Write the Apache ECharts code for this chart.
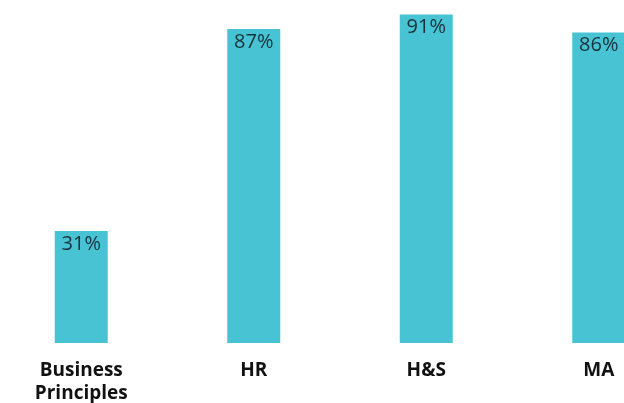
<!DOCTYPE html>
<html>
<head>
<meta charset="utf-8">
<script src="https://cdn.jsdelivr.net/npm/echarts@6/dist/echarts.min.js"></script>
<style>
  html, body { margin: 0; padding: 0; background: #ffffff; }
  #chart { width: 624px; height: 403px; }
</style>
</head>
<body>
<div id="chart"></div>
<script>
// Share of sites covered, by programme
const categories = ['Business\nPrinciples', 'HR', 'H&S', 'MA'];
const values = [31, 87, 91, 86];

const chart = echarts.init(document.getElementById('chart'), null, { renderer: 'canvas' });

chart.setOption({
  animation: false,
  grid: {
    left: -5, top: 0, right: -61, bottom: 60,
    containLabel: false,
    outerBoundsMode: 'none'
  },
  xAxis: {
    type: 'category',
    data: categories,
    axisLine: { show: false },
    axisTick: { show: false },
    axisLabel: {
      interval: 0,
      margin: 16,
      color: '#111111',
      fontFamily: 'Open Sans',
      fontWeight: 'bold',
      fontSize: 19,
      lineHeight: 23
    }
  },
  yAxis: {
    type: 'value',
    min: 0,
    max: 95,
    show: false,
    splitLine: { show: false }
  },
  series: [{
    type: 'bar',
    data: values,
    barWidth: 53,
    itemStyle: { color: '#48c3d3' },
    label: {
      show: true,
      position: 'insideTop',
      distance: 3,
      formatter: '{c}%',
      color: '#17323a',
      fontFamily: 'Open Sans',
      fontSize: 20
    }
  }]
});
</script>
</body>
</html>
